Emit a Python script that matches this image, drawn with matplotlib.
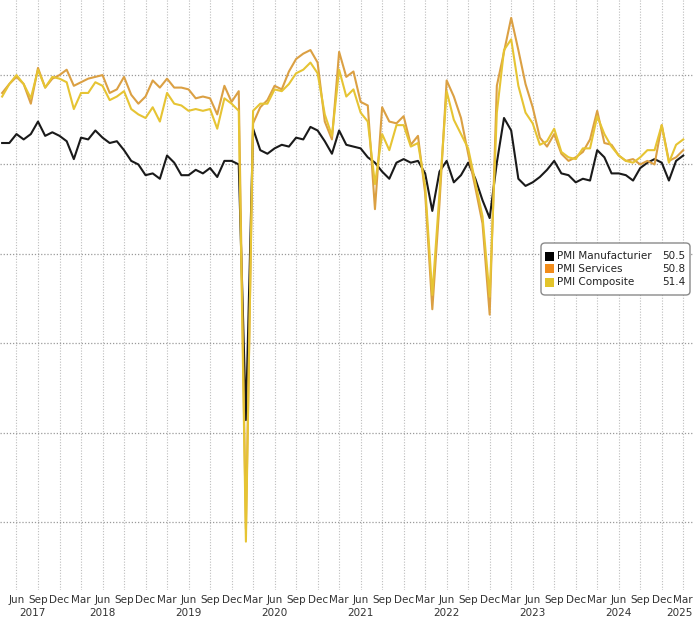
import numpy as np
import pandas as pd
import matplotlib
matplotlib.use("Agg")
from matplotlib import pyplot as plt
from matplotlib.patches import FancyBboxPatch, Rectangle
import matplotlib.transforms as mtransforms

# monthly, Apr 2017 .. Mar 2025
dates = pd.date_range("2017-04-01", "2025-03-01", freq="MS")

manufacturing = [
    51.2, 51.2, 51.7, 51.4, 51.7, 52.4, 51.6, 51.8, 51.6,
    51.3, 50.3, 51.5, 51.4, 51.9, 51.5, 51.2, 51.3, 50.8, 50.2, 50.0, 49.4,
    49.5, 49.2, 50.5, 50.1, 49.4, 49.4, 49.7, 49.5, 49.8, 49.3, 50.2, 50.2,
    50.0, 35.7, 52.0, 50.8, 50.6, 50.9, 51.1, 51.0, 51.5, 51.4, 52.1, 51.9,
    51.3, 50.6, 51.9, 51.1, 51.0, 50.9, 50.4, 50.1, 49.6, 49.2, 50.1, 50.3,
    50.1, 50.2, 49.5, 47.4, 49.6, 50.2, 49.0, 49.4, 50.1, 49.2, 48.0, 47.0,
    50.1, 52.6, 51.9, 49.2, 48.8, 49.0, 49.3, 49.7, 50.2, 49.5, 49.4, 49.0,
    49.2, 49.1, 50.8, 50.4, 49.5, 49.5, 49.4, 49.1, 49.8, 50.1, 50.3, 50.1,
    49.1, 50.2, 50.5,
]
services = [
    54.0, 54.5, 54.9, 54.5, 53.4, 55.4, 54.3, 54.8, 55.0,
    55.3, 54.4, 54.6, 54.8, 54.9, 55.0, 54.0, 54.2, 54.9, 53.9, 53.4, 53.8,
    54.7, 54.3, 54.8, 54.3, 54.3, 54.2, 53.7, 53.8, 53.7, 52.8, 54.4, 53.5,
    54.1, 29.6, 52.3, 53.2, 53.6, 54.4, 54.2, 55.2, 55.9, 56.2, 56.4, 55.7,
    52.4, 51.4, 56.3, 54.9, 55.2, 53.5, 53.3, 47.5, 53.2, 52.4, 52.3, 52.7,
    51.1, 51.6, 48.4, 41.9, 47.8, 54.7, 53.8, 52.6, 50.6, 48.7, 46.7, 41.6,
    54.4, 56.3, 58.2, 56.4, 54.5, 53.2, 51.5, 51.0, 51.7, 50.6, 50.2, 50.4,
    50.7, 51.4, 53.0, 51.2, 51.1, 50.5, 50.2, 50.3, 50.0, 50.2, 50.0, 52.2,
    50.2, 50.4, 50.8,
]
composite = [
    53.8, 54.5, 55.0, 54.5, 53.7, 55.3, 54.3, 54.9, 54.8,
    54.6, 53.1, 54.0, 54.0, 54.6, 54.4, 53.6, 53.8, 54.1, 53.1, 52.8, 52.6,
    53.2, 52.4, 54.0, 53.4, 53.3, 53.0, 53.1, 53.0, 53.1, 52.0, 53.7, 53.4,
    53.0, 28.9, 53.0, 53.4, 53.4, 54.2, 54.1, 54.5, 55.1, 55.3, 55.7, 55.1,
    52.8, 51.6, 55.3, 53.8, 54.2, 52.9, 52.4, 48.9, 51.7, 50.8, 52.2, 52.2,
    51.0, 51.2, 48.8, 42.7, 48.4, 54.1, 52.5, 51.7, 50.9, 49.0, 47.1, 42.6,
    52.9, 56.4, 57.0, 54.4, 52.9, 52.3, 51.1, 51.3, 52.0, 50.7, 50.4, 50.3,
    50.9, 50.9, 52.7, 51.7, 51.0, 50.5, 50.2, 50.1, 50.4, 50.8, 50.8, 52.2,
    50.1, 51.1, 51.4,
]
labels = ["PMI Manufacturier", "PMI Services", "PMI Composite"]
last_values = ["50.5", "50.8", "51.4"]
colors = ["#1a1a1a", "#dba043", "#e6c433"]
legend_colors = ["#000000", "#f28c1a", "#e3c42a"]
years = [2017, 2018, 2019, 2020, 2021, 2022, 2023, 2024, 2025]

# month index relative to Jun 2017
t = (dates.year - 2017) * 12 + dates.month - 6

fig = plt.figure(figsize=(6.94, 6.19), dpi=100)
ax = fig.add_axes([0, 0.047, 1, 0.953])

ax.plot(t, manufacturing, color=colors[0], lw=1.5, zorder=3)
ax.plot(t, services, color=colors[1], lw=1.5, zorder=4)
ax.plot(t, composite, color=colors[2], lw=1.5, zorder=5)

ax.set_xlim(-2.3, 94.5)
ax.set_ylim(26.2, 59.2)

# quarter ticks, Jun 2017 .. Mar 2025
qt = list(range(0, 94, 3))
month_names = {3: "Mar", 6: "Jun", 9: "Sep", 12: "Dec"}
qlab = [month_names[(m + 5) % 12 + 1] for m in qt]
ax.set_xticks(qt)
ax.set_xticklabels(qlab, fontsize=7.5, color="#333333")
ax.tick_params(axis="x", length=0, pad=4)
ax.set_yticks([30, 35, 40, 45, 50, 55])
ax.tick_params(axis="y", length=0, labelleft=False)

ax.grid(axis="x", color="#bdbdbd", linestyle=(0, (1, 1.5)), lw=0.8)
ax.grid(axis="y", color="#9a9a9a", linestyle=(0, (1, 1.5)), lw=0.9)
for s in ax.spines.values():
    s.set_visible(False)

# year labels
trans = mtransforms.blended_transform_factory(ax.transData, fig.transFigure)
year_pos = [2.2] + [12 * (y - 2017) for y in years[1:-1]]
for y, p in zip(years[:-1], year_pos):
    ax.text(p, 1 - 613 / 619, str(y), transform=trans, ha="center", va="center",
            fontsize=7.5, color="#333333")
fig.text(1 - 1 / 694, 1 - 613 / 619, str(years[-1]), ha="right", va="center",
         fontsize=7.5, color="#333333")

# legend box
def fx(px):
    return px / 694

def fy(py):
    return 1 - py / 619

box = FancyBboxPatch((fx(541), fy(295)), fx(690) - fx(541), fy(243) - fy(295),
                     boxstyle="round,pad=0,rounding_size=0.006",
                     transform=fig.transFigure, facecolor="white",
                     edgecolor="#8a8a8a", lw=1.0, zorder=10)
fig.patches.append(box)
rows = [256, 269, 282]
for lab, val, c, r in zip(labels, last_values, legend_colors, rows):
    fig.patches.append(Rectangle((fx(545), fy(r + 4.5)), fx(9), fy(0) - fy(9),
                                 transform=fig.transFigure, facecolor=c,
                                 edgecolor="none", zorder=11))
    fig.text(fx(557), fy(r), lab, fontsize=7.5, va="center", ha="left",
             color="#222222", zorder=12)
    fig.text(fx(685), fy(r), val, fontsize=7.5, va="center", ha="right",
             color="#222222", zorder=12)

fig.savefig("out.png", dpi=100)
